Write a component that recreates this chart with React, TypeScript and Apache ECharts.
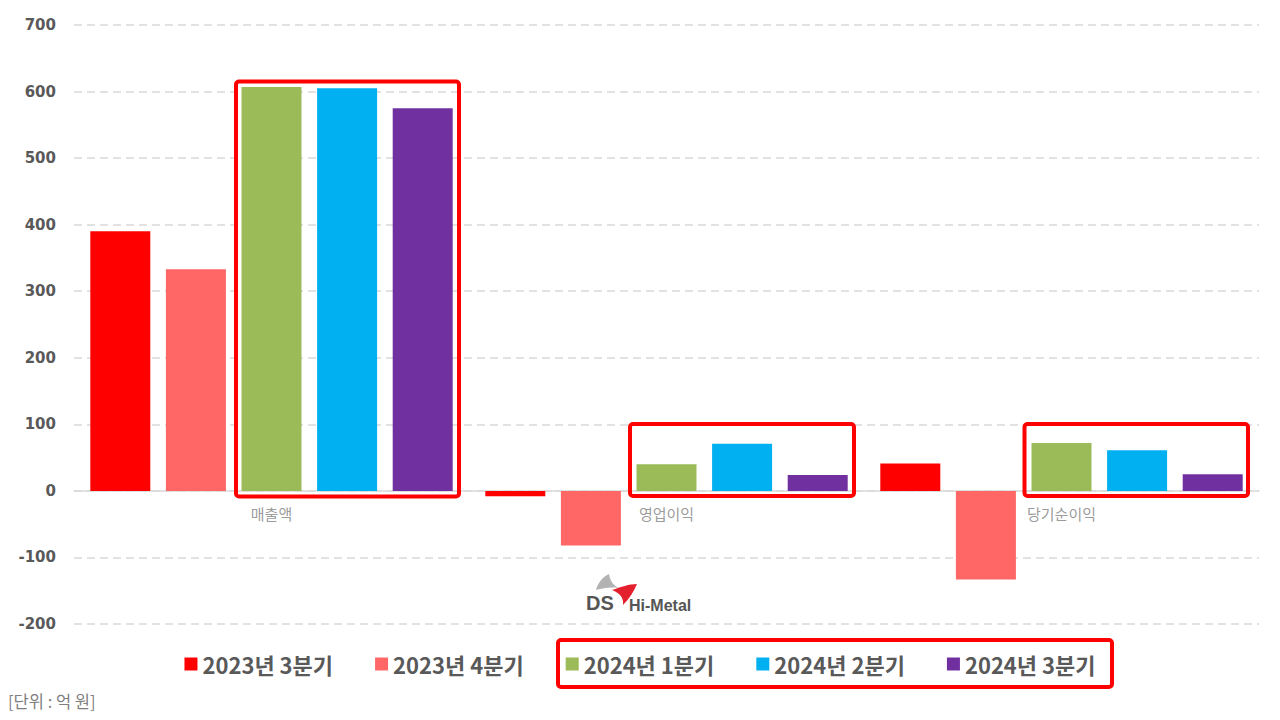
import React, { useEffect, useRef } from "react";
import * as echarts from "echarts";

const categories = ["매출액", "영업이익", "당기순이익"];
const seriesNames = ["2023년 3분기", "2023년 4분기", "2024년 1분기", "2024년 2분기", "2024년 3분기"];
const q3_2023 = [390, -8, 41];
const q4_2023 = [333, -82, -133];
const q1_2024 = [607, 40, 72];
const q2_2024 = [605, 71, 61];
const q3_2024 = [575, 24, 25];
const seriesValues = [q3_2023, q4_2023, q1_2024, q2_2024, q3_2024];
const categoryBaseline = [0, 0, 0];
const colors = ["#ff0000", "#ff6666", "#9bbb59", "#00b0f0", "#7030a0"];
const yTicks = { min: -200, max: 700, interval: 100 };
const unitText = "[단위 : 억 원]";

const GRAY_PATH = "M 11 19 C 13 11 19 5 24 3 C 25 10 29 15 34 17 C 26 16 18 17 11 19 Z";
const RED_PATH = "M 27 19 C 36 16 44 13 52 13 C 49 20 45 27 38 34 C 39 27 35 22 27 19 Z";

let registered = false;
function registerShapes() {
  if (registered) return;
  echarts.graphic.registerShape("logoGray", echarts.graphic.extendPath(GRAY_PATH, {}) as any);
  echarts.graphic.registerShape("logoRed", echarts.graphic.extendPath(RED_PATH, {}) as any);
  registered = true;
}

export default function App() {
  const ref = useRef<HTMLDivElement>(null);
  useEffect(() => {
    if (!ref.current) return;
    registerShapes();
    const chart = echarts.init(ref.current, undefined, { renderer: "svg" });
    const boxStyle = { fill: "none", stroke: "#ff0000", lineWidth: 4 };
    chart.setOption({
      animation: false,
      backgroundColor: "#ffffff",
      grid: { left: 74, right: 21, top: 25, bottom: 96, containLabel: false },
      legend: {
        data: seriesNames,
        left: "center",
        top: 648,
        icon: "rect",
        itemWidth: 13,
        itemHeight: 13,
        itemGap: 42,
        textStyle: {
          color: "#595959",
          fontSize: 22,
          fontWeight: "bold",
          fontFamily: "Noto Sans CJK KR",
        },
      },
      xAxis: {
        type: "category",
        data: categories,
        axisLine: { onZero: true, lineStyle: { color: "#d9d9d9", width: 1.5 } },
        axisTick: { show: false },
        axisLabel: { show: false },
        splitLine: { show: false },
      },
      yAxis: {
        type: "value",
        min: yTicks.min,
        max: yTicks.max,
        interval: yTicks.interval,
        axisLine: { show: false },
        axisTick: { show: false },
        axisLabel: {
          margin: 18,
          color: "#595959",
          fontSize: 15,
          fontWeight: "bold",
          fontFamily: "DejaVu Sans",
        },
        splitLine: { lineStyle: { color: "#d9d9d9", width: 1.5, type: [8, 5] } },
      },
      series: [
        ...seriesNames.map((name, i) => ({
          name,
          type: "bar",
          data: seriesValues[i],
          barWidth: 60,
          barGap: "26%",
          itemStyle: { color: colors[i] },
        })),
        {
          name: "categoryLabels",
          type: "scatter",
          data: categoryBaseline,
          symbolSize: 0,
          silent: true,
          label: {
            show: true,
            position: "bottom",
            distance: 15,
            formatter: (p: any) => p.name,
            color: "#7f7f7f",
            fontSize: 15,
            fontFamily: "Noto Sans CJK KR",
          },
          z: 20,
        },
      ],
      graphic: [
        { type: "rect", shape: { x: 236, y: 81.5, width: 223, height: 415, r: 3 }, style: boxStyle, z: 100 },
        { type: "rect", shape: { x: 630, y: 424, width: 224, height: 72, r: 3 }, style: boxStyle, z: 100 },
        { type: "rect", shape: { x: 1024.5, y: 424, width: 223.5, height: 72, r: 3 }, style: boxStyle, z: 100 },
        { type: "rect", shape: { x: 558, y: 640, width: 554, height: 47, r: 3 }, style: boxStyle, z: 100 },
        {
          type: "text",
          left: 8,
          top: 693,
          style: { text: unitText, fill: "#7f7f7f", fontSize: 16.5, fontFamily: "Noto Sans CJK KR" },
        },
        {
          type: "group",
          x: 585,
          y: 571,
          children: [
            { type: "logoGray", x: 0, y: 0, style: { fill: "#b3b3b3" } },
            { type: "logoRed", x: 0, y: 0, style: { fill: "#e5202e" } },
            {
              type: "text",
              x: 1,
              y: 22,
              style: { text: "DS", fill: "#555555", fontSize: 20, fontWeight: "bold", fontFamily: "Liberation Sans" },
            },
            {
              type: "text",
              x: 44,
              y: 26,
              style: { text: "Hi-Metal", fill: "#555555", fontSize: 16, fontWeight: "bold", fontFamily: "Liberation Sans" },
            },
          ],
        },
      ],
    });
    return () => chart.dispose();
  }, []);
  return <div ref={ref} style={{ position: "absolute", left: 0, top: 0, width: 1280, height: 720 }} />;
}
